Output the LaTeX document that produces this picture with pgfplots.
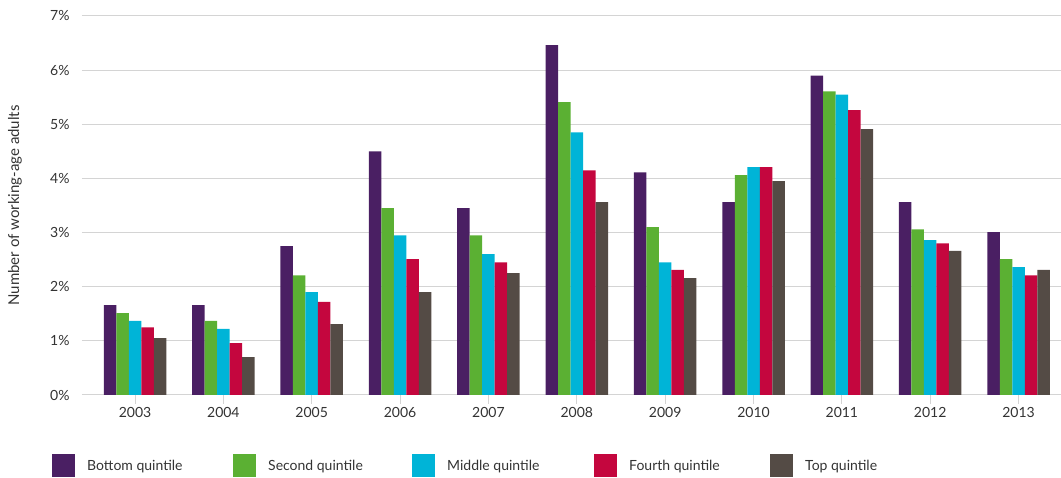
\documentclass[border=0pt]{standalone}
\usepackage{pgfplots}
\pgfplotsset{compat=1.18}
\usepackage{pgfplotstable}
\usepackage{fontspec}
\setmainfont{Lato}
\definecolor{cA}{HTML}{4A1F63}
\definecolor{cB}{HTML}{5BB033}
\definecolor{cC}{HTML}{00B4D7}
\definecolor{cD}{HTML}{C4063E}
\definecolor{cE}{HTML}{544B45}
\definecolor{gridc}{HTML}{D4D4D4}
\definecolor{txt}{HTML}{333333}
\pgfplotstableread{
x a b c d e
0 1.66 1.51 1.37 1.25 1.05
1 1.66 1.37 1.22 0.96 0.70
2 2.75 2.21 1.90 1.72 1.31
3 4.50 3.45 2.95 2.51 1.90
4 3.45 2.95 2.60 2.45 2.25
5 6.46 5.41 4.85 4.15 3.56
6 4.11 3.10 2.45 2.31 2.16
7 3.56 4.06 4.21 4.21 3.95
8 5.90 5.61 5.55 5.26 4.91
9 3.56 3.06 2.86 2.80 2.66
10 3.01 2.51 2.36 2.21 2.31
}\data
\pgfplotsset{
  sq/.style 2 args={ybar, bar width=12.5pt, bar shift=#2, fill=#1, draw=none,
    legend image code/.code={\fill[#1] (0pt,-11.5pt) rectangle (23pt,11.5pt); \path (33pt,0pt);}},
}
\begin{document}
\begin{tikzpicture}[x=1pt,y=1pt]
\path[use as bounding box] (-82,-83) rectangle (979,395);
\begin{axis}[
  at={(0,0)}, anchor=south west,
  scale only axis, width=979pt, height=379pt,
  ymin=0, ymax=7, xmin=-0.6, xmax=10.48,
  xtick={0,...,10}, xticklabels={2003,2004,2005,2006,2007,2008,2009,2010,2011,2012,2013},
  ytick={0,...,7}, yticklabel={\pgfmathprintnumber{\tick}\%},
  /pgf/number format/assume math mode=true,
  axis x line*=bottom, axis y line*=left,
  y axis line style={draw=none},
  x axis line style={draw=gridc, line width=1pt},
  ymajorgrids, grid style={draw=gridc, line width=1pt},
  tick align=outside, major tick length=9pt,
  xtick style={draw=gridc, line width=1pt},
  ytick style={draw=none},
  tick label style={font=\fontsize{14}{16}\selectfont, text=txt},
  ylabel={Number of working-age adults},
  every axis y label/.style={at={(axis description cs:0,0.5)}, xshift=-67pt, rotate=90, anchor=center, font=\fontsize{15}{17}\selectfont, text=txt},
  legend columns=5,
  legend style={at={(-33pt,-71pt)}, anchor=west, draw=none, fill=none,
    font=\fontsize{14}{16}\selectfont, text=txt,
    /tikz/every even column/.append style={column sep=0pt}},
  legend cell align=left,
]
\addplot[sq={cA}{-25pt}] table[x=x,y=a]{\data};
\addlegendentry{\makebox[144pt][l]{Bottom quintile}}
\addplot[sq={cB}{-12.5pt}] table[x=x,y=b]{\data};
\addlegendentry{\makebox[142pt][l]{Second quintile}}
\addplot[sq={cC}{0pt}] table[x=x,y=c]{\data};
\addlegendentry{\makebox[145pt][l]{Middle quintile}}
\addplot[sq={cD}{12.5pt}] table[x=x,y=d]{\data};
\addlegendentry{\makebox[139pt][l]{Fourth quintile}}
\addplot[sq={cE}{25pt}] table[x=x,y=e]{\data};
\addlegendentry{Top quintile}
\end{axis}
\end{tikzpicture}
\end{document}
